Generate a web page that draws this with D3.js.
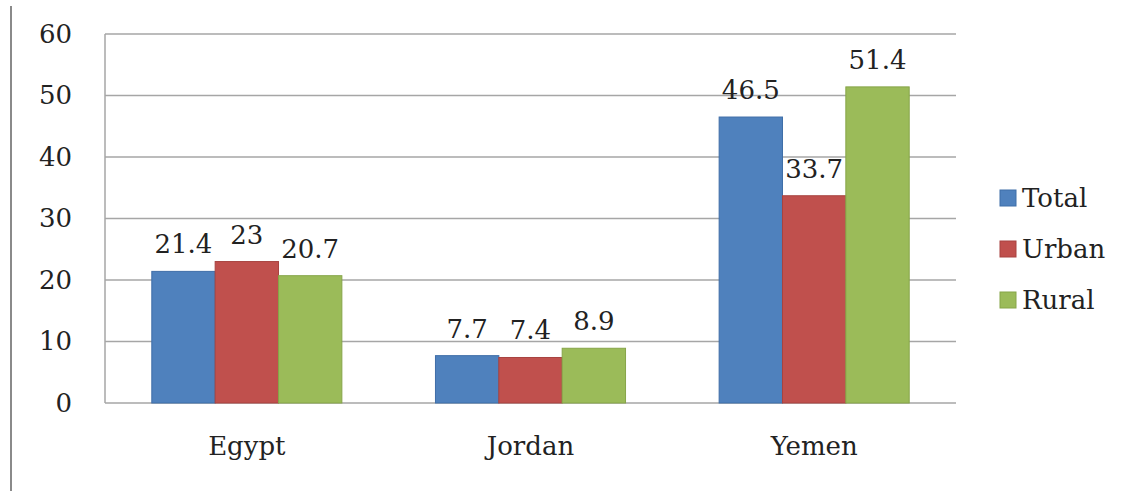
<!DOCTYPE html>
<html>
<head>
<meta charset="utf-8">
<script src="https://cdn.jsdelivr.net/npm/d3@7"></script>
<style>
  body { margin: 0; background: #fff; }
  svg { display: block; }
  text { font-family: "DejaVu Serif", serif; fill: #222; }
</style>
</head>
<body>
<div id="chart"></div>
<script>
'use strict';

// Chart data
const countries = ['Egypt', 'Jordan', 'Yemen'];
const seriesNames = ['Total', 'Urban', 'Rural'];
const totalValues = [21.4, 7.7, 46.5];
const urbanValues = [23, 7.4, 33.7];
const ruralValues = [20.7, 8.9, 51.4];
const yTicks = [0, 10, 20, 30, 40, 50, 60];

const seriesValues = [totalValues, urbanValues, ruralValues];
const colors = ['#4f81bd', '#c0504d', '#9bbb59'];
const borders = ['#3f6ea8', '#a84340', '#86a548'];

const width = 1121;
const height = 491;
const margin = { top: 34, right: 165, bottom: 88, left: 105 };
const innerW = width - margin.left - margin.right;
const innerH = height - margin.top - margin.bottom;

const svg = d3.select('#chart').append('svg')
  .attr('width', width)
  .attr('height', height);

// Thin grey rule on the far left
svg.append('line')
  .attr('x1', 11).attr('x2', 11)
  .attr('y1', 6).attr('y2', height)
  .style('stroke', '#8a8a8a')
  .style('stroke-width', 2);

const g = svg.append('g')
  .attr('transform', `translate(${margin.left}, ${margin.top})`);

// Scales
const x0 = d3.scaleBand()
  .domain(countries)
  .range([0, innerW])
  .paddingInner(0.33)
  .paddingOuter(0.165);

const x1 = d3.scaleBand()
  .domain(seriesNames)
  .range([0, x0.bandwidth()]);

const y = d3.scaleLinear()
  .domain([0, 60])
  .range([innerH, 0]);

// Gridlines
g.append('g')
  .selectAll('line')
  .data(yTicks)
  .enter().append('line')
  .attr('x1', 0)
  .attr('x2', innerW)
  .attr('y1', d => y(d))
  .attr('y2', d => y(d))
  .style('stroke', '#a6a6a6')
  .style('stroke-width', 1.5);

// Left axis line
g.append('line')
  .attr('x1', 0).attr('x2', 0)
  .attr('y1', 0).attr('y2', innerH)
  .style('stroke', '#a6a6a6')
  .style('stroke-width', 1.5);

// Y axis labels
const yAxis = g.append('g')
  .call(d3.axisLeft(y).tickValues(yTicks).tickSize(0).tickPadding(33));
yAxis.select('.domain').remove();
yAxis.selectAll('text')
  .style('font-family', '"DejaVu Serif", serif')
  .style('font-size', '26px')
  .style('fill', '#222');

// X axis labels
const xAxis = g.append('g')
  .attr('transform', `translate(0, ${innerH})`)
  .call(d3.axisBottom(x0).tickSize(0).tickPadding(34));
xAxis.select('.domain').remove();
xAxis.selectAll('text')
  .style('font-family', '"DejaVu Serif", serif')
  .style('font-size', '26px')
  .style('fill', '#222');

// Bars
const groups = g.selectAll('.country')
  .data(countries)
  .enter().append('g')
  .attr('class', 'country')
  .attr('transform', d => `translate(${x0(d)}, 0)`);

groups.selectAll('rect')
  .data((d, i) => seriesNames.map((s, j) => ({ s: s, j: j, v: seriesValues[j][i] })))
  .enter().append('rect')
  .attr('x', d => x1(d.s))
  .attr('y', d => y(d.v))
  .attr('width', x1.bandwidth())
  .attr('height', d => innerH - y(d.v))
  .style('fill', d => colors[d.j])
  .style('stroke', d => borders[d.j])
  .style('stroke-width', 1);

// Value labels
groups.selectAll('.value')
  .data((d, i) => seriesNames.map((s, j) => ({ s: s, j: j, v: seriesValues[j][i] })))
  .enter().append('text')
  .attr('class', 'value')
  .attr('x', d => x1(d.s) + x1.bandwidth() / 2)
  .attr('y', d => y(d.v) - 18)
  .attr('text-anchor', 'middle')
  .style('font-size', '26px')
  .text(d => d.v);

// Legend
const legend = svg.selectAll('.legend')
  .data(seriesNames)
  .enter().append('g')
  .attr('class', 'legend')
  .attr('transform', (d, i) => `translate(1000, ${198 + i * 51})`);

legend.append('rect')
  .attr('x', 0)
  .attr('y', -8)
  .attr('width', 16)
  .attr('height', 16)
  .style('fill', (d, i) => colors[i])
  .style('stroke', (d, i) => borders[i]);

legend.append('text')
  .attr('x', 22)
  .attr('y', 9)
  .style('font-size', '26px')
  .text(d => d);
</script>
</body>
</html>
